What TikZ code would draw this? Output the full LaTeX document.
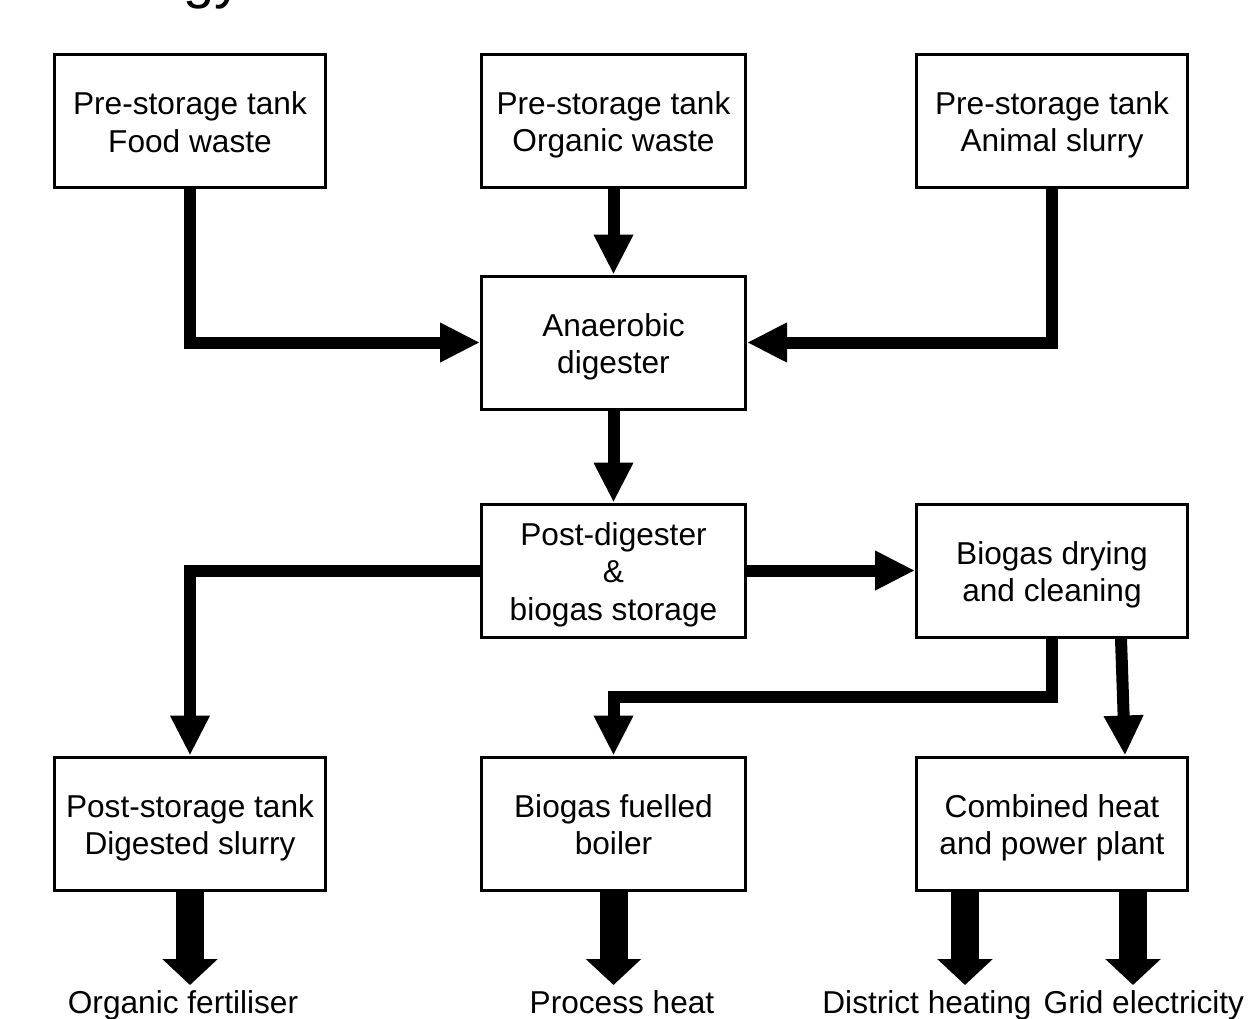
\documentclass[tikz,border=0pt]{standalone}
\usepackage{fontspec}
\setmainfont{Liberation Sans}
\usetikzlibrary{calc, arrows.meta}
\newcommand{\tophi}{\rule{0pt}{0.99em}}
\newcommand{\botlo}{\rule[-0.21em]{0pt}{0pt}}

\begin{document}
\begin{tikzpicture}[
    box/.style={draw, line width=0.03cm, minimum width=2.71cm, minimum height=1.33cm, align=center, inner sep=0pt, font=\fontsize{9pt}{10.7pt}\selectfont},
    midbox/.style={box, minimum width=2.64cm},
    flow/.style={line width=0.12cm, -{Triangle[length=0.4cm,width=0.37cm]}},
    output/.style={line width=0.28cm, -{Triangle[length=0.26cm,width=0.54cm]}},
    outlabel/.style={anchor=base, inner sep=0pt, font=\fontsize{9pt}{10.7pt}\selectfont}
    ]
                \clip (0,0) rectangle (12.49,-10.18);
                \node[anchor=base, inner sep=0pt, font=\fontsize{16pt}{16pt}\selectfont] (title) at (2.13,0.03) {gy};
                \node[box] (food) at (1.90,-1.21) {\tophi Pre-storage tank\\Food waste\botlo};
                \node[midbox] (organic) at (6.135,-1.205) {\tophi Pre-storage tank\\Organic waste\botlo};
                \node[box] (animal) at (10.52,-1.205) {\tophi Pre-storage tank\\Animal slurry\botlo};
                \node[midbox] (digester) at (6.135,-3.425) {\tophi Anaerobic\\digester\botlo};
                \node[midbox] (postdig) at (6.135,-5.705) {\tophi Post-digester\\\&\\biogas storage\botlo};
                \node[box] (drying) at (10.52,-5.705) {\tophi Biogas drying\\and cleaning\botlo};
                \node[box] (pstore) at (1.90,-8.235) {\tophi Post-storage tank\\Digested slurry\botlo};
                \node[midbox] (boiler) at (6.135,-8.235) {\tophi Biogas fuelled\\boiler\botlo};
                \node[box] (chp) at (10.52,-8.235) {\tophi Combined heat\\and power plant\botlo};
                \draw[flow] (food.south) |- (digester.west);
                \draw[flow] (organic) -- (digester);
                \draw[flow] (animal.south) |- (digester.east);
                \draw[flow] (digester) -- (postdig);
                \draw[flow] (postdig) -- (drying);
                \draw[flow] (postdig.west) -| (pstore.north);
                \draw[flow] (drying.south) -- ++(0,-0.58) -| (boiler.north);
                \draw[flow] ([xshift=0.69cm]drying.south) -- ([xshift=0.73cm]chp.north);
                \coordinate (fertend) at (1.90,-9.85);
                \coordinate (heatend) at (6.135,-9.85);
                \coordinate (districtend) at (9.65,-9.85);
                \coordinate (gridend) at (11.33,-9.85);
                \draw[output] (pstore.south -| fertend) -- (fertend);
                \draw[output] (boiler.south -| heatend) -- (heatend);
                \draw[output] (chp.south -| districtend) -- (districtend);
                \draw[output] (chp.south -| gridend) -- (gridend);
                \node[outlabel] (fert) at (1.83,-10.13) {Organic fertiliser};
                \node[outlabel] (heat) at (6.22,-10.13) {Process heat};
                \node[outlabel] (district) at (9.27,-10.13) {District heating};
                \node[outlabel, anchor=base west] (grid) at (10.43,-10.13) {Grid electricity};
\end{tikzpicture}
\end{document}
